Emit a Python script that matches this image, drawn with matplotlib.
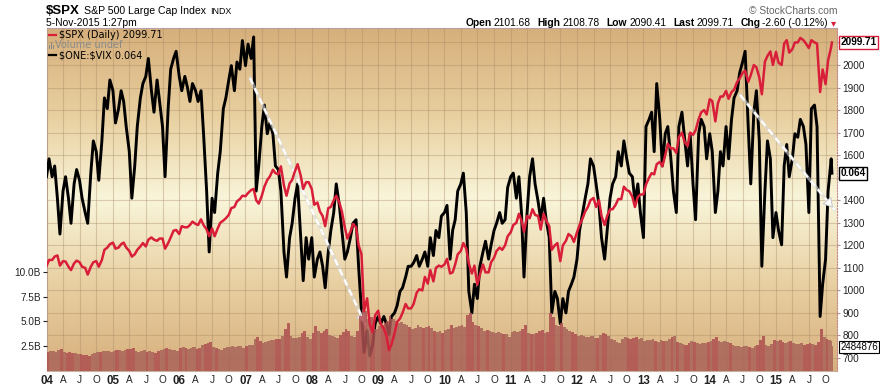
"""
$SPX with $ONE:$VIX overlay and volume, StockCharts style
"""

###############################################################################
# Libraries
import numpy as np
import pandas as pd
import matplotlib
matplotlib.use('Agg')
import matplotlib.pyplot as plt
from matplotlib.colors import LinearSegmentedColormap
from matplotlib.lines import Line2D
from matplotlib.patches import Rectangle

plt.rcParams['font.family'] = ['Liberation Sans', 'DejaVu Sans']

###############################################################################
# Data (semi-monthly readings, 1st and 15th, last point 5-Nov-2015)
dates = list(pd.date_range('2004-01-01', '2015-11-01', freq='SMS')) + [pd.Timestamp('2015-11-05')]

# $SPX close
spx_04 = [1108,1135, 1135,1150, 1155,1110, 1130,1128, 1105,1090, 1120,1132, 1125,1105, 1100,1070, 1105,1125, 1130,1105, 1135,1180, 1190,1205]
spx_05 = [1212,1185, 1190,1205, 1212,1190, 1175,1150, 1160,1180, 1195,1210, 1195,1225, 1235,1225, 1220,1230, 1230,1185, 1210,1235, 1265,1268]
spx_06 = [1250,1285, 1280,1280, 1290,1305, 1295,1290, 1315,1290, 1270,1240, 1275,1240, 1275,1300, 1310,1320, 1335,1365, 1370,1395, 1405,1420]
spx_07 = [1418,1432, 1445,1450, 1400,1385, 1420,1460, 1490,1505, 1535,1520, 1515,1550, 1465,1420, 1475,1490, 1530,1560, 1510,1450, 1480,1480]
spx_08 = [1450,1380, 1390,1350, 1330,1285, 1365,1370, 1400,1420, 1390,1350, 1280,1230, 1260,1295, 1280,1200, 1160,910, 965,850, 815,890]
spx_09 = [910,850, 830,800, 735,760, 810,860, 875,900, 940,920, 920,940, 990,1005, 1000,1060, 1030,1090, 1040,1100, 1110,1105]
spx_10 = [1115,1140, 1075,1080, 1115,1160, 1175,1210, 1185,1120, 1075,1110, 1025,1070, 1115,1080, 1080,1125, 1145,1175, 1190,1180, 1200,1240]
spx_11 = [1258,1290, 1300,1340, 1310,1260, 1330,1320, 1360,1335, 1330,1270, 1340,1310, 1285,1180, 1200,1210, 1130,1200, 1220,1250, 1240,1215]
spx_12 = [1258,1290, 1320,1350, 1370,1400, 1410,1370, 1400,1330, 1290,1330, 1360,1360, 1380,1405, 1405,1460, 1445,1440, 1415,1370, 1415,1425]
spx_13 = [1426,1470, 1500,1520, 1515,1560, 1570,1550, 1600,1650, 1630,1630, 1610,1680, 1700,1660, 1640,1700, 1690,1710, 1760,1790, 1800,1780]
spx_14 = [1848,1840, 1750,1830, 1860,1860, 1885,1850, 1880,1890, 1925,1940, 1965,1975, 1925,1955, 2000,1990, 1945,1870, 2015,2040, 2060,2000]
spx_15 = [2058,2010, 2000,2095, 2110,2055, 2070,2100, 2100,2120, 2110,2095, 2075,2110, 2100,2095, 1880,1980, 1915,2020, 2080, 2099.71]

# $ONE:$VIX ratio
vix_04 = [0.063,0.068, 0.063,0.066, 0.057,0.047, 0.059,0.063, 0.057,0.050, 0.061,0.065, 0.062,0.057, 0.053,0.050, 0.064,0.073, 0.070,0.062, 0.073,0.085, 0.082,0.090]
vix_05 = [0.087,0.078, 0.082,0.087, 0.084,0.077, 0.070,0.057, 0.066,0.077, 0.085,0.089, 0.091,0.096, 0.087,0.081, 0.090,0.084, 0.077,0.063, 0.082,0.093, 0.096,0.098]
vix_06 = [0.091,0.087, 0.091,0.088, 0.084,0.089, 0.087,0.084, 0.087,0.075, 0.059,0.042, 0.057,0.053, 0.064,0.070, 0.082,0.085, 0.090,0.094, 0.087,0.095, 0.093,0.101]
vix_07 = [0.094,0.100, 0.096,0.102, 0.059,0.066, 0.077,0.083, 0.075,0.078, 0.075,0.066, 0.065,0.059, 0.042,0.035, 0.046,0.050, 0.057,0.061, 0.046,0.034, 0.046,0.040]
vix_08 = [0.046,0.035, 0.040,0.042, 0.038,0.032, 0.042,0.048, 0.053,0.061, 0.055,0.048, 0.040,0.042, 0.046,0.050, 0.051,0.038, 0.025,0.014, 0.020,0.013, 0.016,0.022]
vix_09 = [0.024,0.022, 0.024,0.022, 0.019,0.024, 0.025,0.027, 0.031,0.032, 0.035,0.038, 0.038,0.039, 0.041,0.038, 0.040,0.042, 0.038,0.046, 0.041,0.048, 0.046,0.052]
vix_10 = [0.053,0.055, 0.040,0.048, 0.051,0.059, 0.061,0.064, 0.053,0.031, 0.025,0.033, 0.029,0.038, 0.042,0.045, 0.040,0.044, 0.048,0.050, 0.053,0.050, 0.051,0.060]
vix_11 = [0.063,0.064, 0.057,0.063, 0.053,0.035, 0.053,0.063, 0.068,0.061, 0.056,0.051, 0.057,0.051, 0.046,0.025, 0.031,0.029, 0.022,0.029, 0.025,0.031, 0.033,0.035]
vix_12 = [0.040,0.048, 0.053,0.057, 0.061,0.068, 0.066,0.061, 0.055,0.046, 0.040,0.048, 0.057,0.061, 0.063,0.070, 0.066,0.073, 0.068,0.064, 0.063,0.056, 0.061,0.053]
vix_13 = [0.046,0.077, 0.079,0.081, 0.070,0.089, 0.079,0.066, 0.075,0.077, 0.068,0.059, 0.053,0.077, 0.081,0.074, 0.066,0.075, 0.061,0.051, 0.075,0.079, 0.077,0.068]
vix_14 = [0.075,0.070, 0.053,0.059, 0.070,0.066, 0.077,0.068, 0.079,0.085, 0.087,0.092, 0.095,0.098, 0.077,0.061, 0.081,0.087, 0.073,0.038, 0.059,0.073, 0.068,0.046]
vix_15 = [0.053,0.048, 0.044,0.066, 0.072,0.063, 0.068,0.075, 0.074,0.079, 0.077,0.072, 0.053,0.082, 0.083,0.077, 0.024,0.033, 0.040,0.059, 0.068, 0.064]

# Volume (billions)
vol_04 = [1.9,2.0, 2.0,1.9, 2.1,2.2, 1.9,1.8, 1.9,1.8, 1.8,1.7, 1.7,1.6, 1.6,1.5, 1.7,1.8, 1.9,1.9, 2.0,2.0, 2.0,1.9]
vol_05 = [2.0,2.1, 2.1,2.0, 2.1,2.2, 2.2,2.3, 2.0,1.9, 2.0,2.1, 1.9,2.0, 1.9,1.8, 2.0,2.1, 2.2,2.3, 2.2,2.1, 2.1,2.0]
vol_06 = [2.3,2.4, 2.3,2.2, 2.3,2.4, 2.2,2.3, 2.6,2.7, 2.8,2.9, 2.4,2.3, 2.2,2.1, 2.3,2.4, 2.4,2.5, 2.4,2.5, 2.5,2.3]
vol_07 = [2.5,2.6, 2.6,3.2, 3.4,3.0, 2.8,2.9, 3.0,3.1, 3.1,3.2, 3.2,3.5, 4.2,4.8, 3.5,3.3, 3.3,3.4, 3.8,4.0, 3.4,3.2]
vol_08 = [3.8,4.5, 4.0,3.8, 4.0,4.2, 3.6,3.5, 3.4,3.3, 3.6,3.9, 4.2,4.0, 3.5,3.4, 4.0,5.5, 6.2,6.0, 5.2,5.4, 4.8,4.2]
vol_09 = [4.5,4.6, 4.8,5.0, 5.5,5.2, 5.0,4.8, 4.9,4.7, 4.6,4.4, 4.2,4.3, 4.6,4.4, 4.3,4.4, 4.5,4.3, 4.0,3.9, 4.0,3.8]
vol_10 = [4.1,4.2, 4.6,4.3, 4.4,4.5, 4.6,4.4, 5.6,5.8, 4.9,4.6, 4.5,4.3, 4.0,4.1, 4.0,3.9, 3.8,3.9, 3.8,3.7, 3.7,3.4]
vol_11 = [3.9,4.0, 3.9,4.0, 4.2,4.6, 3.8,3.7, 3.7,3.8, 4.0,4.1, 3.8,3.9, 5.8,5.4, 4.6,4.5, 4.8,4.4, 4.2,4.0, 3.9,3.7]
vol_12 = [3.5,3.6, 3.5,3.4, 3.4,3.5, 3.3,3.3, 3.6,3.8, 3.7,3.5, 3.2,3.1, 2.9,2.8, 3.2,3.4, 3.3,3.2, 3.3,3.4, 3.2,3.3]
vol_13 = [3.0,3.1, 3.1,3.2, 3.0,2.9, 3.1,3.0, 3.0,3.2, 3.4,3.5, 2.9,2.8, 2.7,2.6, 2.8,3.0, 2.9,2.8, 2.7,2.8, 2.8,2.9]
vol_14 = [3.0,3.2, 3.4,3.0, 2.9,3.0, 2.9,2.8, 2.6,2.5, 2.5,2.4, 2.5,2.5, 2.4,2.3, 2.5,2.6, 3.1,3.5, 2.6,2.5, 2.7,3.1]
vol_15 = [3.0,3.1, 2.9,2.8, 2.9,3.0, 2.8,2.7, 2.7,2.8, 2.6,2.7, 2.8,2.7, 2.6,2.9, 4.2,3.4, 3.2,3.1, 3.0, 2.484876]

# Hand-drawn trend lines on the VIX ratio (start, end)
trend_dates = [('2007-01-26', '2008-10-27'), ('2014-06-17', '2015-11-21')]
trend_vals = [(0.0905, 0.0213), (0.0858, 0.0537)]

# Axis ticks (labels hidden under the last-value boxes are left blank)
spx_ticks = list(range(700, 2101, 100))
spx_labels = ['' if v in (1500, 2100) else str(v) for v in spx_ticks]
vol_ticks = [2.5, 5.0, 7.5, 10.0]
vol_labels = ['2.5B', '5.0B', '7.5B', '10.0B']

spx = np.concatenate([spx_04, spx_05, spx_06, spx_07, spx_08, spx_09, spx_10, spx_11, spx_12, spx_13, spx_14, spx_15])
vix = np.concatenate([vix_04, vix_05, vix_06, vix_07, vix_08, vix_09, vix_10, vix_11, vix_12, vix_13, vix_14, vix_15])
vol = np.concatenate([vol_04, vol_05, vol_06, vol_07, vol_08, vol_09, vol_10, vol_11, vol_12, vol_13, vol_14, vol_15])

#############################################################################################
# Figure
W, H = 880, 387
fig = plt.figure(figsize=(W/100, H/100), dpi=100)
rect = [46.5/W, (H-370.7)/H, (837-46.5)/W, (370.7-28)/H]
x_lim = (pd.Timestamp('2004-01-01'), pd.Timestamp('2015-12-03'))
spx_lim = (643.8, 2164)
vix_lim = (0.00887, 0.1045)
vol_lim = (0, 34.7)

# Background + grid + price scale
ax_bg = fig.add_axes(rect, zorder=0)
cmap = LinearSegmentedColormap.from_list('tan', [(0, '#d6af7b'), (0.25, '#e8cf9f'), (0.5, '#f9f5da'),
                                                  (0.75, '#e8cfa1'), (1, '#d8b07e')])
ax_bg.imshow(np.linspace(0, 1, 256).reshape(-1, 1), cmap=cmap, aspect='auto',
             extent=[0, 1, 0, 1], transform=ax_bg.transAxes, zorder=0)
ax_bg.set_xlim(x_lim)
ax_bg.set_ylim(spx_lim)
ax_bg.set_yticks(spx_ticks)
ax_bg.set_yticklabels(spx_labels)
ax_bg.yaxis.tick_right()
ax_bg.tick_params(axis='y', length=2, pad=2, labelsize=7.2, colors='#222222')
ax_bg.tick_params(axis='y', color='#b09090')

qdates = pd.date_range('2004-01-01', '2015-10-01', freq='QS')
qlabels = [d.strftime('%y') if d.month == 1 else {4: 'A', 7: 'J', 10: 'O'}[d.month] for d in qdates]
ax_bg.set_xticks(qdates)
ax_bg.set_xticklabels(qlabels)
ax_bg.tick_params(axis='x', length=0, pad=3, labelsize=7.2, colors='#222222')
for d, lbl in zip(qdates, ax_bg.get_xticklabels()):
    if d.month == 1:
        lbl.set_fontweight('bold')
        lbl.set_fontsize(8.3)
ax_bg.grid(True, color='#a88c68', alpha=0.4, lw=0.8)
ax_bg.set_axisbelow(False)
for s in ['left', 'bottom']:
    ax_bg.spines[s].set_color('#c8b0a0')
ax_bg.spines['top'].set_color('#b8a0a8')
ax_bg.spines['right'].set_color('#c08888')
ax_bg.spines['right'].set_linestyle(':')

# $ONE:$VIX
ax_vix = fig.add_axes(rect, zorder=1)
ax_vix.patch.set_visible(False)
ax_vix.plot(dates, vix, color='black', lw=2.1)
for (d0, d1), (v0, v1) in zip(trend_dates, trend_vals):
    ax_vix.plot([pd.Timestamp(d0), pd.Timestamp(d1)], [v0, v1], color='#d8d8d8', lw=2.4, alpha=0.6)
    ax_vix.plot([pd.Timestamp(d0), pd.Timestamp(d1)], [v0, v1], color='white', lw=1.6, dashes=(3, 2))
    ax_vix.annotate('', xy=(pd.Timestamp(d1), v1),
                    xytext=(pd.Timestamp(d1) - (pd.Timestamp(d1) - pd.Timestamp(d0)) * 0.06,
                            v1 - (v1 - v0) * 0.06),
                    arrowprops=dict(arrowstyle='-|>,head_length=0.6,head_width=0.35',
                                    color='white', ec='#cccccc', lw=0.8))
ax_vix.set_xlim(x_lim)
ax_vix.set_ylim(vix_lim)
ax_vix.axis('off')

# Volume
ax_vol = fig.add_axes(rect, zorder=2)
ax_vol.patch.set_visible(False)
num = pd.to_datetime(dates)
widths = np.append(np.diff(num).astype('timedelta64[D]').astype(float), 4.0)
vol_colors = ['#ad4f50' if i == 0 or spx[i] < spx[i-1] else '#a9645a' for i in range(len(vol))]
ax_vol.bar(dates, vol, width=widths, align='edge', color=vol_colors, alpha=0.85, lw=0)
ax_vol.set_xlim(x_lim)
ax_vol.set_ylim(vol_lim)
ax_vol.set_yticks(vol_ticks)
ax_vol.set_yticklabels(vol_labels)
ax_vol.tick_params(axis='y', length=3, pad=1, labelsize=7.2, colors='#222222')
ax_vol.set_xticks([])
for s in ax_vol.spines.values():
    s.set_visible(False)

# $SPX
ax_spx = fig.add_axes(rect, zorder=3)
ax_spx.patch.set_visible(False)
ax_spx.plot(dates, spx, color='#d91e3a', lw=1.8)
ax_spx.set_xlim(x_lim)
ax_spx.set_ylim(spx_lim)
ax_spx.axis('off')

# Last value boxes
ax_spx.annotate(f'{spx[-1]:.2f}', xy=(1.004, spx[-1]), xycoords=('axes fraction', 'data'),
                ha='left', va='center', fontsize=7.2, fontweight='bold', annotation_clip=False,
                bbox=dict(boxstyle='square,pad=0.15', fc='white', ec='#d91e3a', lw=1))
ax_vix.annotate(f'{vix[-1]:.3f}', xy=(1.004, vix[-1]), xycoords=('axes fraction', 'data'),
                ha='left', va='center', fontsize=7.2, fontweight='bold', annotation_clip=False,
                bbox=dict(boxstyle='square,pad=0.15', fc='white', ec='black', lw=1))
ax_spx.annotate(f'{round(vol[-1]*1e6)}', xy=(1.004, 0.068), xycoords='axes fraction',
                ha='left', va='center', fontsize=7, annotation_clip=False,
                bbox=dict(boxstyle='square,pad=0.1', fc='white', ec='black', lw=0.8))

#############################################################################################
# Header texts
r = fig.canvas.get_renderer()

def seq_text(parts, x0, ypix, align='left'):
    objs = [fig.text(0, 1 - ypix/H, s, va='center', **kw) for s, kw, gap in parts]
    widths = [t.get_window_extent(r).width + gap for t, (s, kw, gap) in zip(objs, parts)]
    x = x0 if align == 'left' else x0 - sum(widths)
    for t, w in zip(objs, widths):
        t.set_x(x / W)
        x += w

seq_text([(r'\$SPX', dict(fontsize=9.5, fontweight='bold'), 4),
          ('S&P 500 Large Cap Index', dict(fontsize=7.6), 4),
          ('INDX', dict(fontsize=6.4), 0)], 46, 11)
fig.text(46/W, 1 - 23.5/H, '5-Nov-2015 1:27pm', fontsize=7.4, va='center')
fig.text(837/W, 1 - 10.5/H, '\u00a9 StockCharts.com', fontsize=7.4, va='center', ha='right', color='#666666')
b = dict(fontsize=7.4, fontweight='bold')
n = dict(fontsize=7.4)
seq_text([('Open', b, 2), ('2101.68', n, 7), ('High', b, 2), ('2108.78', n, 7),
          ('Low', b, 2), ('2090.41', n, 7), ('Last', b, 2), ('2099.71', n, 7),
          ('Chg', b, 2), ('-2.60 (-0.12%)', n, 3),
          ('\u25be', dict(fontsize=7.4, color='#d91e3a', family=['DejaVu Sans']), 0)], 836, 23.5, align='right')

# Legend
leg = dict(fontsize=7, family=['DejaVu Sans'], va='center')
fig.add_artist(Line2D([49/W, 56/W], [1 - 35/H, 1 - 35/H], color='#d91e3a', lw=1.6))
fig.text(59/W, 1 - 35/H, r'\$SPX (Daily) ' + f'{spx[-1]:.2f}', **leg)
for i, h in enumerate([4, 6, 4]):
    fig.add_artist(Rectangle(((48.5 + 2*i)/W, (H - 48.5)/H), 1.2/W, h/H, color='#888888', lw=0))
fig.text(55/W, 1 - 45/H, 'Volume undef', color='#8a8a8a', **leg)
fig.add_artist(Line2D([49/W, 56/W], [1 - 55/H, 1 - 55/H], color='black', lw=1.6))
fig.text(59/W, 1 - 55/H, r'\$ONE:\$VIX ' + f'{vix[-1]:.3f}', **leg)

plt.savefig('out.png', dpi=100)
plt.close()
